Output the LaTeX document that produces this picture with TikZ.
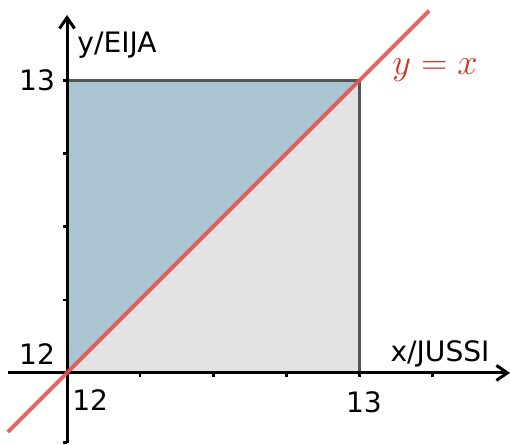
\documentclass[tikz,border=0pt]{standalone}
\usepackage{fontspec}
\setmainfont{DejaVu Sans}
\usepackage{tikz}
\usetikzlibrary{arrows.meta, positioning}
\definecolor{upper}{HTML}{A9C5D2}
\definecolor{lower}{HTML}{E3E3E3}
\definecolor{diag}{HTML}{E0554F}
\definecolor{eqred}{HTML}{D8322A}
\definecolor{frame}{HTML}{555555}

\begin{document}
\begin{tikzpicture}[
  x=5.85cm, y=5.85cm,
  axis/.style={line width=1.7pt, -{Straight Barb[length=2.2mm, width=3mm]}},
  tickmark/.style={line width=1.4pt},
  edge/.style={draw=frame, line width=1.7pt},
  lbl/.style={font=\fontsize{16}{19}\selectfont, inner sep=0pt}
]
  \useasboundingbox (11.771,11.754) rectangle (13.5145,13.275);

  % corners of the square
  \coordinate (o) at (12,12);
  \coordinate (p) at (13,12);
  \coordinate (q) at (13,13);
  \coordinate (r) at (12,13);

  % the two halves
  \fill[upper] (o) -- (r) -- (q) -- cycle;
  \fill[lower] (o) -- (p) -- (q) -- cycle;
  \draw[edge] (r) -- (q) -- (p);

  % axes
  \coordinate (xs) at (11.798,12);
  \coordinate (xe) at (13.5145,12);
  \coordinate (ys) at (12,11.759);
  \coordinate (ye) at (12,13.224);
  \draw[axis] (xs) -- (xe);
  \draw[axis] (ys) -- (ye);
  \foreach \t in {12.25,12.5,12.75,13,13.25}
    \draw[tickmark] (\t,12) -- (\t,11.985);
  \foreach \t in {11.762,12.25,12.5,12.75,13}
    \draw[tickmark] (12,\t) -- (11.985,\t);

  % the line y = x
  \coordinate (ds) at (11.798,11.798);
  \coordinate (de) at (13.238,13.238);
  \draw[diag, line width=2.2pt, opacity=0.9] (ds) -- (de);

  % labels
  \node[lbl, anchor=east] (y13) at (11.96,13) {13};
  \node[lbl, anchor=east] (y12) at (11.96,12.065) {12};
  \node[lbl] (x12) at (12.079,11.908) {12};
  \node[lbl] (x13) at (13.015,11.901) {13};
  \node[lbl] (xlab) at (13.275,12.065) {x/JUSSI};
  \node[lbl] (ylab) at (12.171,13.122) {y/EIJA};
  \node[lbl, text=eqred, font=\fontsize{20.5}{24}\selectfont] (eq) at (13.258,13.036) {$y=x$};
\end{tikzpicture}
\end{document}
